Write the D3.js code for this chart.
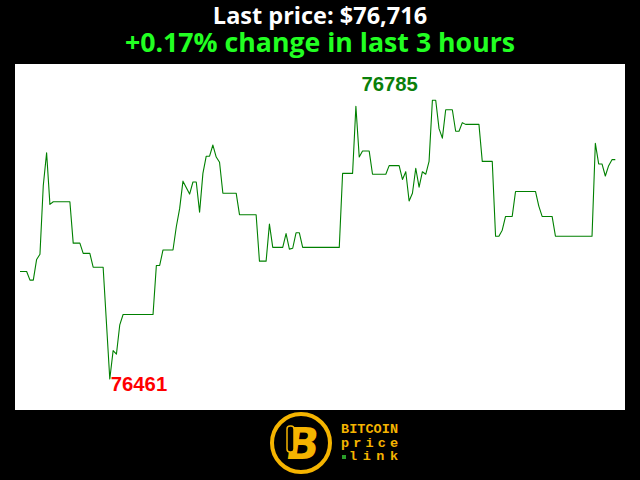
<!DOCTYPE html>
<html><head><meta charset="utf-8">
<script src="https://cdn.jsdelivr.net/npm/d3@7"></script>
<style>html,body{margin:0;padding:0;background:#000;}svg{display:block;}</style>
</head><body>
<script>
// minutes since start (vertices of the price line) and prices in USD
const minutes = [0,2,3,4,5,6,7,8,9,10,15,16,18,19,21,22,25,27,28,29,30,31,40,41,42,43,46,47,48,49,51,52,53,54,55,56,57,58,59,60,61,65,66,71,72,74,75,76,79,80,81,82,83,84,85,96,97,100,101,102,103,105,106,110,111,114,115,116,117,118,119,120,121,122,123,124,125,126,127,128,130,131,132,133,134,138,139,142,143,144,145,146,148,149,155,156,157,160,161,172,173,174,175,176,177,178,179];
const prices = [76586,76586,76576,76576,76600,76606,76686,76724,76664,76667,76667,76619,76619,76607,76607,76591,76591,76461,76494,76490,76524,76536,76536,76593,76593,76611,76611,76638,76659,76691,76676,76690,76690,76655,76700,76720,76720,76733,76719,76713,76677,76677,76652,76652,76598,76598,76641,76614,76614,76630,76612,76613,76631,76631,76614,76614,76700,76700,76778,76719,76726,76726,76699,76699,76709,76709,76693,76702,76668,76677,76706,76684,76702,76699,76714,76785,76785,76752,76741,76774,76774,76749,76749,76759,76757,76757,76714,76714,76627,76627,76634,76650,76650,76679,76679,76662,76650,76650,76627,76627,76735,76711,76711,76697,76709,76716,76716];
const titleLines = ["Last price: $76,716", "+0.17% change in last 3 hours"];
const logoWords = ["BITCOIN", "price", "link"];

const W = 640, H = 480;
const svg = d3.select("body").append("svg").attr("width", W).attr("height", H);
svg.append("rect").attr("width", W).attr("height", H).attr("fill", "#000");

// plot panel
svg.append("rect").attr("x", 15).attr("y", 64).attr("width", 610).attr("height", 346).attr("fill", "#fff");

const data = minutes.map((m, i) => ({m, p: prices[i]}));
const minP = d3.min(prices), maxP = d3.max(prices);
const x = d3.scaleLinear().domain([0, 179]).range([20, 615.3]);
const y = d3.scaleLinear().domain([minP, maxP]).range([379, 100.3]);

svg.append("path").datum(data)
  .attr("fill", "none").attr("stroke", "#008000").attr("stroke-width", 1.1)
  .attr("stroke-linejoin", "round")
  .attr("d", d3.line().x(d => x(d.m)).y(d => y(d.p)));

const minD = data.find(d => d.p === minP), maxD = data.find(d => d.p === maxP);
svg.append("text").attr("x", x(maxD.m) - 71).attr("y", y(maxP) - 9)
  .attr("font-family", "Liberation Sans, Arial, sans-serif").attr("font-weight", "bold")
  .attr("font-size", 20.3).attr("fill", "#0a800a").text(maxP);
svg.append("text").attr("x", x(minD.m) + 1).attr("y", y(minP) + 12)
  .attr("font-family", "Liberation Sans, Arial, sans-serif").attr("font-weight", "bold")
  .attr("font-size", 20.3).attr("fill", "#ff0000").text(minP);

// titles
svg.append("text").attr("x", 320).attr("y", 24).attr("text-anchor", "middle")
  .attr("font-family", "Open Sans, sans-serif").attr("font-weight", "bold")
  .attr("font-size", 23.5).attr("fill", "#fff").text(titleLines[0]);
svg.append("text").attr("x", 320).attr("y", 52).attr("text-anchor", "middle")
  .attr("font-family", "Open Sans, sans-serif").attr("font-weight", "bold")
  .attr("font-size", 26.7).attr("fill", "#22ff22").text(titleLines[1]);

// logo
const gold = "#f5b400";
const lg = svg.append("g");
lg.append("circle").attr("cx", 301).attr("cy", 443).attr("r", 29).attr("fill", "none")
  .attr("stroke", gold).attr("stroke-width", 4);
lg.append("text").attr("x", 303).attr("y", 459).attr("text-anchor", "middle")
  .attr("font-family", "DejaVu Sans, sans-serif").attr("font-weight", "bold")
  .attr("font-size", 44).attr("fill", gold)
  .attr("transform", "skewX(-8) translate(62,0)").text("B");
lg.append("rect").attr("x", 287).attr("y", 426).attr("width", 7).attr("height", 26)
  .attr("rx", 3).attr("fill", "#000").attr("stroke", gold).attr("stroke-width", 1.5);
const baselines = [433, 446.5, 460];
logoWords.forEach((w, i) => {
  lg.append("text").attr("x", i === 2 ? 349 : 341).attr("y", baselines[i])
    .attr("font-family", "Liberation Mono, monospace").attr("font-weight", "bold")
    .attr("font-size", 13.5).attr("fill", gold)
    .attr("textLength", i === 2 ? 49 : 57).attr("lengthAdjust", "spacing").text(w);
});
lg.append("rect").attr("x", 342).attr("y", 455).attr("width", 4).attr("height", 4).attr("fill", "#2a9d2a");
</script>
</body></html>
